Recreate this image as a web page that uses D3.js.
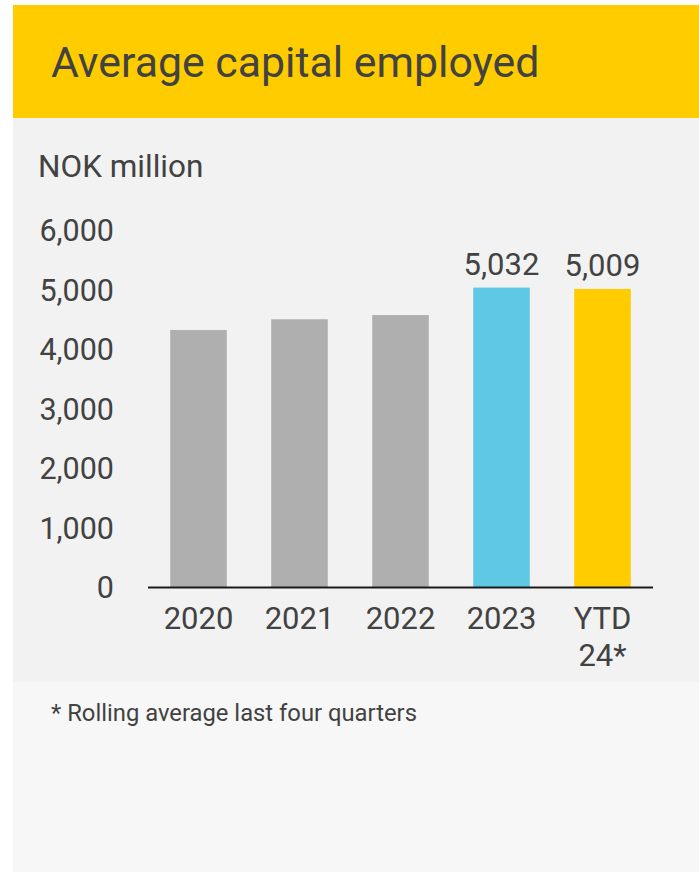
<!DOCTYPE html>
<html>
<head>
<meta charset="utf-8">
<script src="https://cdn.jsdelivr.net/npm/d3@7/dist/d3.min.js"></script>
<style>
  html, body { margin: 0; padding: 0; background: #ffffff; }
  svg { display: block; font-family: Roboto, "Noto Sans", sans-serif; }
</style>
</head>
<body>
<svg id="chart" width="699" height="872"></svg>
<script>
// Average capital employed, NOK million
const categories = ["2020", "2021", "2022", "2023", "YTD 24*"];
const values = [4320, 4500, 4570, 5032, 5009];
const barColors = ["#afafaf", "#afafaf", "#afafaf", "#5ec8e5", "#ffcc00"];
const valueLabels = [null, null, null, "5,032", "5,009"];
const yTicks = [0, 1000, 2000, 3000, 4000, 5000, 6000];

const textColor = "#424242";
const svg = d3.select("#chart");

// Card background: header band, chart panel, footnote panel
svg.append("rect").attr("x", 13).attr("y", 5).attr("width", 686).attr("height", 113).attr("fill", "#ffcc00");
svg.append("rect").attr("x", 13).attr("y", 118).attr("width", 686).attr("height", 564).attr("fill", "#f2f2f2");
svg.append("rect").attr("x", 13).attr("y", 682).attr("width", 686).attr("height", 190).attr("fill", "#f7f7f7");

svg.append("text")
  .attr("x", 51).attr("y", 77)
  .attr("font-size", 42.8).attr("fill", textColor)
  .text("Average capital employed");

svg.append("text")
  .attr("x", 38).attr("y", 177)
  .attr("font-size", 31.5).attr("fill", textColor)
  .text("NOK million");

svg.append("text")
  .attr("x", 51).attr("y", 721)
  .attr("font-size", 23.8).attr("fill", textColor)
  .text("* Rolling average last four quarters");

// Scales
const x = d3.scaleBand().domain(categories).range([148, 653])
  .paddingInner(0.44).paddingOuter(0.22);
const y = d3.scaleLinear().domain([0, 6000]).range([587, 230]);

// Y axis: labels only
const yAxis = svg.append("g").attr("transform", "translate(114,0)")
  .call(d3.axisLeft(y).tickValues(yTicks).tickSize(0).tickPadding(0)
    .tickFormat(d3.format(",")));
yAxis.select(".domain").remove();
yAxis.selectAll("text")
  .attr("font-size", 30.5).attr("fill", textColor)
  .attr("font-family", "Roboto, sans-serif")
  .attr("dy", "0.35em");

// Bars
svg.append("g").selectAll("rect")
  .data(categories)
  .join("rect")
  .attr("x", d => x(d))
  .attr("width", x.bandwidth())
  .attr("y", (d, i) => y(values[i]))
  .attr("height", (d, i) => y(0) - y(values[i]))
  .attr("fill", (d, i) => barColors[i]);

// Value labels
svg.append("g").selectAll("text")
  .data(categories.filter((d, i) => valueLabels[i] !== null))
  .join("text")
  .attr("x", d => x(d) + x.bandwidth() / 2)
  .attr("y", d => y(values[categories.indexOf(d)]) - 13)
  .attr("text-anchor", "middle")
  .attr("font-size", 31).attr("fill", textColor)
  .text(d => valueLabels[categories.indexOf(d)]);

// X axis baseline and category labels
svg.append("line")
  .attr("x1", 148).attr("x2", 653)
  .attr("y1", y(0) + 0.5).attr("y2", y(0) + 0.5)
  .attr("stroke", "#1a1a1a").attr("stroke-width", 2);

const xLabels = svg.append("g").selectAll("text")
  .data(categories)
  .join("text")
  .attr("x", d => x(d) + x.bandwidth() / 2)
  .attr("y", 629)
  .attr("text-anchor", "middle")
  .attr("font-size", 31).attr("fill", textColor);
xLabels.each(function(d) {
  const parts = d.split(" ");
  d3.select(this).selectAll("tspan")
    .data(parts)
    .join("tspan")
    .attr("x", x(d) + x.bandwidth() / 2)
    .attr("dy", (p, i) => i === 0 ? 0 : 37)
    .text(p => p);
});
</script>
</body>
</html>
